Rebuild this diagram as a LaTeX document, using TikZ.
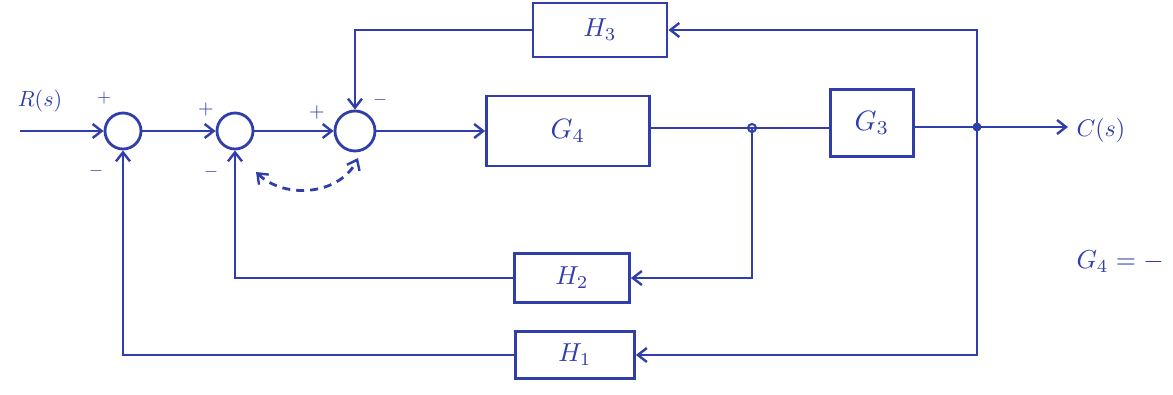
\documentclass[tikz,border=0pt]{standalone}
\usepackage{graphicx}
\usetikzlibrary{arrows.meta}
\definecolor{ink}{RGB}{48,62,172}
\newcommand{\sbx}[2]{\scalebox{#1}{#2}}
\begin{document}
\begin{tikzpicture}[x=1pt,y=-1pt,
  ln/.style={draw=ink,line width=2.8pt},
  sumj/.style={circle,draw=ink,line width=2.8pt,inner sep=0pt},
  blk/.style={rectangle,draw=ink,line width=2.8pt,inner sep=0pt,text=ink},
  lbl/.style={text=ink},
  sgn/.style={text=ink},
  arr/.style={ln,-{Straight Barb[length=9pt,width=14pt,line width=2.4pt]}},
  darr/.style={ln,{Straight Barb[length=9pt,width=14pt,line width=2.4pt]}-{Straight Barb[length=9pt,width=14pt,line width=2.4pt]}}
]
\useasboundingbox (0,0) rectangle (1173,394);
% summing junctions
\node[sumj,minimum size=36pt] (s1) at (123,131) {};
\node[sumj,minimum size=36pt] (s2) at (235,131) {};
\node[sumj,minimum size=40pt] (s3) at (355,131) {};
% blocks
\node[blk,minimum width=163pt,minimum height=70pt] (G4) at (568,131) {\sbx{2.8}{$G_4$}};
\node[blk,minimum width=83pt,minimum height=67pt] (G3) at (872,123) {\sbx{2.8}{$G_3$}};
\node[blk,minimum width=134pt,minimum height=54pt] (H3) at (600,30) {\sbx{2.6}{$H_3$}};
\node[blk,minimum width=115pt,minimum height=49pt] (H2) at (572,278) {\sbx{2.6}{$H_2$}};
\node[blk,minimum width=119pt,minimum height=47pt] (H1) at (575,355) {\sbx{2.6}{$H_1$}};
% coordinates
\coordinate (in) at (20,131);
\coordinate (j1) at (752,128);
\coordinate (j2) at (977,127);
\coordinate (out) at (1068,127);
\coordinate (d1) at (256,172);
\coordinate (d2) at (358,158);
% labels
\node[lbl] (R) at (40,101) {\sbx{2.2}{$R(s)$}};
\node[lbl,anchor=west] (C) at (1073,130) {\sbx{2.4}{$C(s)$}};
\node[lbl,anchor=west] (eq) at (1073,262) {\sbx{2.6}{$G_4 = -$}};
\node[sgn] (p1) at (104,98) {\sbx{1.8}{$+$}};
\node[sgn] (m1) at (96,171) {\sbx{1.8}{$-$}};
\node[sgn] (p2) at (206,109) {\sbx{2}{$+$}};
\node[sgn] (m2) at (211,172) {\sbx{1.8}{$-$}};
\node[sgn] (p3) at (317,112) {\sbx{2}{$+$}};
\node[sgn] (m3) at (380,100) {\sbx{1.8}{$-$}};
% forward path
\draw[arr] (in) -- (s1.west);
\draw[arr] (s1.east) -- (s2.west);
\draw[arr] (s2.east) -- (s3.west);
\draw[arr] (s3.east) -- (G4.west);
\draw[ln] (G4.east |- j1) -- (j1) -- (G3.west |- j1);
\draw[arr] (G3.east |- j2) -- (j2) -- (out);
% feedback paths
\draw[arr] (j2) |- (H3.east);
\draw[arr] (H3.west) -| (s3.north);
\draw[arr] (j1) |- (H2.east);
\draw[arr] (H2.west) -| (s2.south);
\draw[arr] (j2) |- (H1.east);
\draw[arr] (H1.west) -| (s1.south);
% junction marks
\fill[ink] (j2) circle (4.5pt);
\draw[ln,line width=2pt] (j1) circle (4pt);
% dashed double arrow
\draw[darr,dashed,dash pattern=on 8pt off 6pt] (d1) .. controls (285,200) and (340,195) .. (d2);
\end{tikzpicture}
\end{document}
